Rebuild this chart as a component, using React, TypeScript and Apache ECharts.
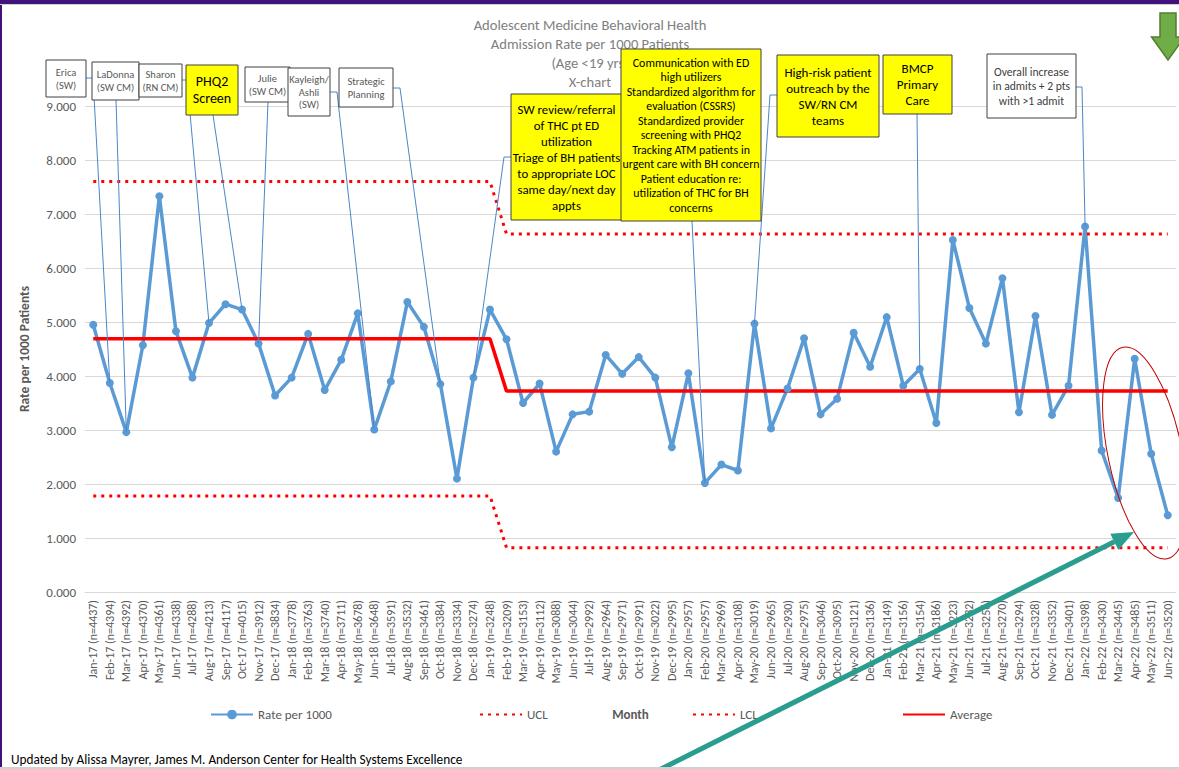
import React, { useEffect, useRef } from "react";
import * as echarts from "echarts";

const months = [
  "Jan-17", "Feb-17", "Mar-17", "Apr-17", "May-17", "Jun-17", "Jul-17", "Aug-17", "Sep-17", "Oct-17", "Nov-17", "Dec-17",
  "Jan-18", "Feb-18", "Mar-18", "Apr-18", "May-18", "Jun-18", "Jul-18", "Aug-18", "Sep-18", "Oct-18", "Nov-18", "Dec-18",
  "Jan-19", "Feb-19", "Mar-19", "Apr-19", "May-19", "Jun-19", "Jul-19", "Aug-19", "Sep-19", "Oct-19", "Nov-19", "Dec-19",
  "Jan-20", "Feb-20", "Mar-20", "Apr-20", "May-20", "Jun-20", "Jul-20", "Aug-20", "Sep-20", "Oct-20", "Nov-20", "Dec-20",
  "Jan-21", "Feb-21", "Mar-21", "Apr-21", "May-21", "Jun-21", "Jul-21", "Aug-21", "Sep-21", "Oct-21", "Nov-21", "Dec-21",
  "Jan-22", "Feb-22", "Mar-22", "Apr-22", "May-22", "Jun-22",
];

const patientCounts = [
  4437, 4394, 4392, 4370, 4361, 4338, 4288, 4213, 4117, 4015, 3912, 3834,
  3778, 3763, 3740, 3711, 3678, 3648, 3591, 3532, 3461, 3384, 3334, 3274,
  3248, 3209, 3153, 3112, 3088, 3044, 2992, 2964, 2971, 2991, 3022, 2995,
  2957, 2957, 2969, 3108, 3019, 2965, 2930, 2975, 3046, 3095, 3121, 3136,
  3149, 3156, 3154, 3186, 3223, 3232, 3256, 3270, 3294, 3328, 3352, 3401,
  3398, 3430, 3445, 3485, 3511, 3520,
];

const rates = [
  4.95, 3.87, 2.96, 4.57, 7.33, 4.83, 3.97, 4.98, 5.33, 5.23, 4.6, 3.64,
  3.97, 4.78, 3.74, 4.3, 5.16, 3.01, 3.9, 5.37, 4.91, 3.85, 2.1, 3.97,
  5.23, 4.68, 3.5, 3.86, 2.6, 3.29, 3.34, 4.39, 4.04, 4.35, 3.97, 2.68,
  4.05, 2.02, 2.36, 2.25, 4.97, 3.03, 3.77, 4.7, 3.29, 3.58, 4.8, 4.17,
  5.09, 3.82, 4.13, 3.13, 6.52, 5.26, 4.6, 5.81, 3.33, 5.11, 3.28, 3.82,
  6.77, 2.62, 1.74, 4.32, 2.56, 1.42,
];

// Control-chart phases: number of months in each phase and its limits
const phaseLengths = [25, 41];
const phaseUCL = [7.6, 6.63];
const phaseAverage = [4.69, 3.72];
const phaseLCL = [1.78, 0.82];

const yMin = 0;
const yMax = 9;
const yInterval = 1;

const titleLines = [
  "Adolescent Medicine Behavioral Health",
  "Admission Rate per 1000 Patients",
  "(Age <19 yrs)",
  "X-chart",
];

const footerText = "Updated by Alissa Mayrer, James M. Anderson Center for Health Systems Excellence";

const FONT = "Carlito, Calibri, Lato, sans-serif";

type Note = {
  text: string;
  box: [number, number, number, number];
  fill: string;
  size: number;
  color: string;
  lh: number;
  target: string;
  via: number[][];
};

const annotations: Note[] = [
  { text: "Erica\n(SW)", box: [46, 60, 40, 37], fill: "#ffffff", size: 10.5, color: "#595959", lh: 13, target: "Feb-17", via: [[86, 78], [93, 78]] },
  { text: "LaDonna\n(SW CM)", box: [92, 62, 47, 38], fill: "#ffffff", size: 10.5, color: "#595959", lh: 13, target: "Mar-17", via: [[116, 100]] },
  { text: "Sharon\n(RN CM)", box: [139, 64, 43, 33], fill: "#ffffff", size: 10.5, color: "#595959", lh: 13, target: "Aug-17", via: [[182, 80], [187, 80]] },
  { text: "PHQ2\nScreen", box: [186, 65, 52, 50], fill: "#ffff00", size: 14, color: "#000000", lh: 17, target: "Oct-17", via: [[213, 115]] },
  { text: "Julie\n(SW CM)", box: [245, 67, 45, 35], fill: "#ffffff", size: 10.5, color: "#595959", lh: 13, target: "Nov-17", via: [[268, 102]] },
  { text: "Kayleigh/\nAshli\n(SW)", box: [288, 68, 42, 48], fill: "#ffffff", size: 10.5, color: "#595959", lh: 12.5, target: "Jun-18", via: [[330, 92], [337, 92]] },
  { text: "Strategic\nPlanning", box: [339, 68, 54, 39], fill: "#ffffff", size: 10.5, color: "#595959", lh: 13, target: "Oct-18", via: [[393, 88], [400, 88]] },
  { text: "SW review/referral\nof THC pt ED\nutilization\nTriage of BH patients\nto appropriate LOC\nsame day/next day\nappts", box: [511, 94, 111, 126], fill: "#ffff00", size: 12.8, color: "#000000", lh: 16, target: "Dec-18", via: [[511, 157], [504, 157]] },
  { text: "Communication with ED\nhigh utilizers\nStandardized algorithm for\nevaluation (CSSRS)\nStandardized provider\nscreening with PHQ2\nTracking ATM patients in\nurgent care with BH concern\nPatient education re:\nutilization of THC for BH\nconcerns", box: [621, 49, 140, 172], fill: "#ffff00", size: 11.9, color: "#000000", lh: 14.5, target: "Feb-20", via: [[692, 221]] },
  { text: "High-risk patient\noutreach by the\nSW/RN CM\nteams", box: [777, 55, 102, 82], fill: "#ffff00", size: 13, color: "#000000", lh: 16, target: "May-20", via: [[777, 95], [770, 95]] },
  { text: "BMCP\nPrimary\nCare", box: [883, 55, 69, 59], fill: "#ffff00", size: 13, color: "#000000", lh: 16, target: "Mar-21", via: [[917, 114]] },
  { text: "Overall increase\nin admits + 2 pts\nwith >1 admit", box: [987, 54, 89, 64], fill: "#ffffff", size: 11.6, color: "#404040", lh: 14.5, target: "Jan-22", via: [[1076, 87], [1082, 87]] },
];

function expandPhases(values: number[]): number[] {
  const out: number[] = [];
  phaseLengths.forEach((len, p) => {
    for (let i = 0; i < len; i++) out.push(values[p]);
  });
  return out;
}

export default function App() {
  const ref = useRef<HTMLDivElement>(null);

  useEffect(() => {
    if (!ref.current) return;
    const chart = echarts.init(ref.current, undefined, { renderer: "svg" });
    const ucl = expandPhases(phaseUCL);
    const lcl = expandPhases(phaseLCL);
    const avg = expandPhases(phaseAverage);
    const categories = months.map((m, i) => `${m} (n=${patientCounts[i]})`);

    const legendBase = {
      top: 708,
      padding: 0,
      itemWidth: 42,
      itemHeight: 12,
      itemGap: 4,
      textStyle: { color: "#595959", fontSize: 13, fontFamily: FONT },
    };

    chart.setOption({
      animation: false,
      backgroundColor: "#ffffff",
      textStyle: { fontFamily: FONT },
      grid: { left: 85, right: 3, top: 106, bottom: 177, containLabel: false },
      legend: [
        { ...legendBase, left: 210, data: ["Rate per 1000"] },
        { ...legendBase, left: 479, data: ["UCL"], itemStyle: { opacity: 0 } },
        { ...legendBase, left: 692, data: ["LCL"], itemStyle: { opacity: 0 } },
        { ...legendBase, left: 902, data: ["Average"], itemStyle: { opacity: 0 } },
      ],
      xAxis: {
        type: "category",
        data: categories,
        boundaryGap: true,
        name: "Month",
        nameLocation: "middle",
        nameGap: 116,
        nameTextStyle: { color: "#595959", fontSize: 13, fontWeight: "bold", fontFamily: FONT },
        axisLine: { lineStyle: { color: "#D9D9D9" } },
        axisTick: { show: false },
        axisLabel: { rotate: 90, interval: 0, color: "#595959", fontSize: 12, margin: 8, fontFamily: FONT },
        splitLine: { show: false },
      },
      yAxis: {
        type: "value",
        min: yMin,
        max: yMax,
        interval: yInterval,
        name: "Rate per 1000 Patients",
        nameLocation: "middle",
        nameRotate: 90,
        nameGap: 54,
        nameTextStyle: { color: "#595959", fontSize: 13.5, fontWeight: "bold", fontFamily: FONT },
        axisLine: { show: false },
        axisTick: { show: false },
        axisLabel: { color: "#595959", fontSize: 13, margin: 9, fontFamily: FONT, formatter: (v: number) => v.toFixed(3) },
        splitLine: { lineStyle: { color: "#D9D9D9", width: 1 } },
      },
      series: [
        {
          name: "Rate per 1000",
          type: "line",
          data: rates,
          symbol: "circle",
          symbolSize: 8,
          lineStyle: { color: "#5B9BD5", width: 3.5 },
          itemStyle: { color: "#5B9BD5" },
          z: 3,
        },
        {
          name: "UCL",
          type: "line",
          data: ucl,
          symbol: "none",
          lineStyle: { color: "#FF0000", width: 3, type: [3, 5] },
          itemStyle: { color: "#FF0000" },
          z: 3,
        },
        {
          name: "LCL",
          type: "line",
          data: lcl,
          symbol: "none",
          lineStyle: { color: "#FF0000", width: 3, type: [3, 5] },
          itemStyle: { color: "#FF0000" },
          z: 3,
        },
        {
          name: "Average",
          type: "line",
          data: avg,
          symbol: "none",
          lineStyle: { color: "#FF0000", width: 3.5 },
          itemStyle: { color: "#FF0000" },
          z: 3,
        },
      ],
    });

    const leaderLines = annotations.map((a) => {
      const idx = months.indexOf(a.target);
      const pt = chart.convertToPixel({ xAxisIndex: 0, yAxisIndex: 0 }, [idx, rates[idx]]) as number[];
      return {
        type: "polyline",
        z: 40,
        silent: true,
        shape: { points: [...a.via, [pt[0], pt[1]]] },
        style: { stroke: "#4A86C8", lineWidth: 1, fill: null },
      };
    });

    const boxes = annotations.map((a) => {
      const [x, y, w, h] = a.box;
      return {
        type: "group",
        z: 50,
        children: [
          {
            type: "rect",
            z: 50,
            shape: { x, y, width: w, height: h },
            style: { fill: a.fill, stroke: "#404040", lineWidth: 1 },
          },
          {
            type: "text",
            z: 51,
            x: x + w / 2,
            y: y + h / 2,
            style: {
              text: a.text,
              fontSize: a.size,
              lineHeight: a.lh,
              fontFamily: FONT,
              fill: a.color,
              align: "center",
              verticalAlign: "middle",
              textAlign: "center",
              textVerticalAlign: "middle",
            },
          },
        ],
      };
    });

    // teal arrow geometry
    const tail = [655, 772];
    const tip = [1134, 532];
    const dx = tip[0] - tail[0];
    const dy = tip[1] - tail[1];
    const len = Math.sqrt(dx * dx + dy * dy);
    const ux = dx / len;
    const uy = dy / len;
    const headLen = 22;
    const headHalf = 9;
    const bx = tip[0] - ux * headLen;
    const by = tip[1] - uy * headLen;

    chart.setOption({
      graphic: [
        {
          type: "text",
          z: 1,
          x: 590,
          y: 15,
          style: {
            text: titleLines.join("\n"),
            fontSize: 14.6,
            lineHeight: 19,
            fontFamily: FONT,
            fill: "#808080",
            align: "center",
            verticalAlign: "top",
            textAlign: "center",
            textVerticalAlign: "top",
          },
        },
        ...leaderLines,
        ...boxes,
        {
          type: "polygon",
          z: 60,
          shape: {
            points: [
              [1160, 13], [1176, 13], [1176, 37], [1184.5, 37], [1168, 60], [1151.5, 37], [1160, 37],
            ],
          },
          style: { fill: "#70AD47", stroke: "#507E32", lineWidth: 1.5 },
        },
        {
          type: "ellipse",
          z: 60,
          x: 1145,
          y: 453,
          rotation: 0.205,
          shape: { cx: 0, cy: 0, rx: 37, ry: 108 },
          style: { fill: null, stroke: "#C00000", lineWidth: 1 },
        },
        {
          type: "line",
          z: 61,
          shape: { x1: tail[0], y1: tail[1], x2: bx, y2: by },
          style: { stroke: "#2A9D8F", lineWidth: 5 },
        },
        {
          type: "polygon",
          z: 61,
          shape: {
            points: [
              [tip[0], tip[1]],
              [bx - uy * headHalf, by + ux * headHalf],
              [bx + uy * headHalf, by - ux * headHalf],
            ],
          },
          style: { fill: "#2A9D8F" },
        },
        {
          type: "text",
          z: 60,
          x: 11,
          y: 759,
          style: {
            text: footerText,
            fontSize: 13.3,
            fontFamily: FONT,
            fill: "#000000",
            align: "left",
            verticalAlign: "middle",
            textAlign: "left",
            textVerticalAlign: "middle",
          },
        },
        { type: "rect", z: 70, shape: { x: 0, y: 0, width: 1179, height: 4 }, style: { fill: "#41137A" } },
        { type: "rect", z: 70, shape: { x: 0, y: 0, width: 2, height: 769 }, style: { fill: "#41137A" } },
        { type: "rect", z: 70, shape: { x: 0, y: 4, width: 1179, height: 1 }, style: { fill: "#D0D0D0" } },
        { type: "rect", z: 70, shape: { x: 0, y: 767, width: 1179, height: 2 }, style: { fill: "#D0D0D0" } },
      ],
    });

    return () => chart.dispose();
  }, []);

  return (
    <div
      ref={ref}
      style={{ position: "fixed", left: 0, top: 0, width: 1179, height: 769, background: "#ffffff" }}
    />
  );
}
